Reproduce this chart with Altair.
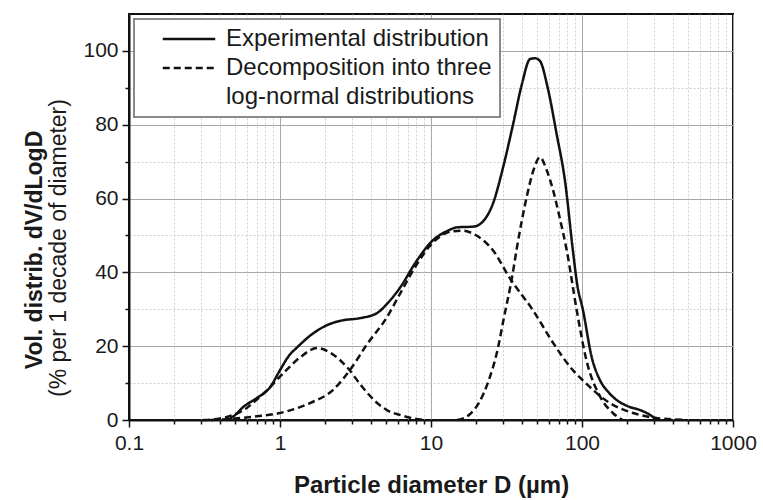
import altair as alt
import pandas as pd

# ---- data ----
exp_d = [0.45, 0.5, 0.57, 0.7, 0.86, 1.0, 1.15, 1.3, 1.6, 2.05, 2.6, 3.4, 4.4, 5.2, 6.2,
         8.0, 10.3, 12.8, 14.9, 19.1, 22.3, 25.7, 30, 34.9, 40, 45.3, 49, 52.6, 59.5, 67.9,
         77.1, 87, 92.7, 101.6, 116, 131.5, 150, 170, 205, 242, 295, 310]
exp_v = [0, 1.2, 3.5, 5.9, 8.9, 13.5, 17.5, 19.7, 23, 25.7, 27, 27.6, 29.0, 31.8, 35.7,
         43, 48.7, 51.2, 52.2, 52.4, 54, 58.6, 68.4, 80, 91, 97.8, 98, 97.3, 89.7, 77.5,
         64.9, 46, 37, 29.7, 17, 10.8, 7.5, 5.4, 3.6, 2.7, 0.8, 0]

c1_d = [0.31, 0.4, 0.5, 0.6, 0.7, 0.86, 0.95, 1.1, 1.36, 1.76, 2.2, 2.78, 3.5, 4.4, 5.2, 6.2, 7.5, 9]
c1_v = [0, 0.4, 1.5, 3.2, 5.5, 8.9, 10.8, 13.5, 17, 19.5, 18, 14.3, 9, 4.6, 2.5, 1.4, 0.5, 0]

c2_d = [0.35, 0.5, 0.7, 1.0, 1.58, 2.24, 2.9, 3.77, 5.1, 6.2, 8, 10, 13.4, 16, 20, 25.7,
        33.3, 47.4, 64.6, 87, 101, 153, 218, 316, 495]
c2_v = [0, 0.4, 1.0, 1.9, 4.6, 8.1, 13.5, 20.5, 27.8, 34.0, 42, 47.5, 51, 51.3, 50, 46,
        38.4, 29.7, 20.8, 13.5, 10.8, 4.6, 1.9, 0.5, 0]

c3_d = [14.9, 18, 21, 24, 27.4, 30.5, 34.4, 37, 43, 48, 52.7, 58, 64.6, 71, 79.2, 92.3,
        107, 132, 160, 186]
c3_v = [0, 1.5, 5.0, 10.5, 18.5, 28, 38.6, 46.5, 60.4, 68, 71.2, 68, 62, 55, 46, 29.7,
        16.2, 6.3, 1.9, 0]

legend_labels = ["Experimental distribution", "Decomposition into three", "log-normal distributions"]
x_ticks = [0.1, 0.2, 0.3, 0.4, 0.5, 0.6, 0.7, 0.8, 0.9,
           1, 2, 3, 4, 5, 6, 7, 8, 9,
           10, 20, 30, 40, 50, 60, 70, 80, 90,
           100, 200, 300, 400, 500, 600, 700, 800, 900, 1000]
y_ticks = [0, 10, 20, 30, 40, 50, 60, 70, 80, 90, 100]
x_title = "Particle diameter D (µm)"
y_title_1 = "Vol. distrib. dV/dLogD"
y_title_2 = "(% per 1 decade of diameter)"

rows = []
for d, v in zip(exp_d, exp_v):
    rows.append({"series": legend_labels[0], "comp": "exp", "D": d, "V": v})
for name, ds, vs in (("c1", c1_d, c1_v), ("c2", c2_d, c2_v), ("c3", c3_d, c3_v)):
    for d, v in zip(ds, vs):
        rows.append({"series": legend_labels[1], "comp": name, "D": d, "V": v})
df = pd.DataFrame(rows)

FONT = "Liberation Sans"
TXT = "#1a1a1a"
XMAJ = "abs(log(datum.value)/LN10 - round(log(datum.value)/LN10)) < 0.000001"
YMAJ = "datum.value % 20 == 0"

x_axis = alt.Axis(
    values=x_ticks, format="~g",
    labelExpr=f"({XMAJ}) ? datum.label : ''",
    labelFlush=False, labelBound=False, labelOverlap=False,
    labelFont=FONT, labelFontSize=21, labelColor=TXT, labelPadding=5,
    tickColor="#111", tickWidth=1.5,
    tickSize={"condition": {"test": XMAJ, "value": 7}, "value": 4},
    grid=True,
    gridColor={"condition": {"test": XMAJ, "value": "#a8a8a8"}, "value": "#cfcfcf"},
    gridDash={"condition": {"test": XMAJ, "value": []}, "value": [2, 2]},
    gridWidth=1,
    domainColor="#111", domainWidth=2,
    title=x_title, titleFont=FONT, titleFontSize=24, titleFontWeight="bold",
    titleColor=TXT, titleY=72, titleBaseline="alphabetic",
)
y_axis = alt.Axis(
    values=y_ticks,
    labelExpr=f"({YMAJ}) ? datum.label : ''",
    labelFont=FONT, labelFontSize=21, labelColor=TXT, labelPadding=4,
    tickColor="#111", tickWidth=1.5,
    tickSize={"condition": {"test": YMAJ, "value": 7}, "value": 4},
    grid=True,
    gridColor={"condition": {"test": YMAJ, "value": "#a8a8a8"}, "value": "#cfcfcf"},
    gridDash={"condition": {"test": YMAJ, "value": []}, "value": [2, 2]},
    gridWidth=1,
    domainColor="#111", domainWidth=2,
    title=None,
)

lines = alt.Chart(df).mark_line(strokeWidth=2.5, interpolate="monotone", color="#111").encode(
    x=alt.X("D:Q", scale=alt.Scale(type="log", domain=[0.1, 1000]), axis=x_axis),
    y=alt.Y("V:Q", scale=alt.Scale(domain=[0, 110]), axis=y_axis),
    strokeDash=alt.StrokeDash(
        "series:N",
        scale=alt.Scale(domain=legend_labels, range=[[1, 0], [7, 4], [0, 100]]),
        legend=alt.Legend(
            title=None, orient="none", legendX=5, legendY=5,
            symbolType="M-2.5,0H2.5", symbolSize=441, symbolStrokeWidth=2.5,
            symbolStrokeColor="#111", symbolFillColor="transparent",
            symbolOffset=35, labelOffset=25,
            labelFont=FONT, labelFontSize=24, labelColor=TXT, labelLimit=0,
            rowPadding=5, padding=8,
            strokeColor="#666", fillColor="white",
        ),
    ),
    detail="comp:N",
)

t1 = alt.Chart(pd.DataFrame({"t": [y_title_1]})).mark_text(
    angle=270, align="center", baseline="alphabetic", font=FONT, fontSize=23,
    fontWeight="bold", color=TXT,
).encode(x=alt.value(-87), y=alt.value(236), text="t:N")

t2 = alt.Chart(pd.DataFrame({"t": [y_title_2]})).mark_text(
    angle=270, align="center", baseline="alphabetic", font=FONT, fontSize=23,
    color=TXT,
).encode(x=alt.value(-63), y=alt.value(234), text="t:N")

chart = alt.layer(lines, t1, t2).properties(
    width=604, height=406,
    autosize=alt.AutoSizeParams(type="none"),
    padding={"left": 129, "top": 14, "right": 30, "bottom": 80},
).configure_view(stroke="#111", strokeWidth=2).configure_legend(strokeWidth=1.5)

chart.save("out.html", embed_options={"renderer": "svg", "actions": False})
